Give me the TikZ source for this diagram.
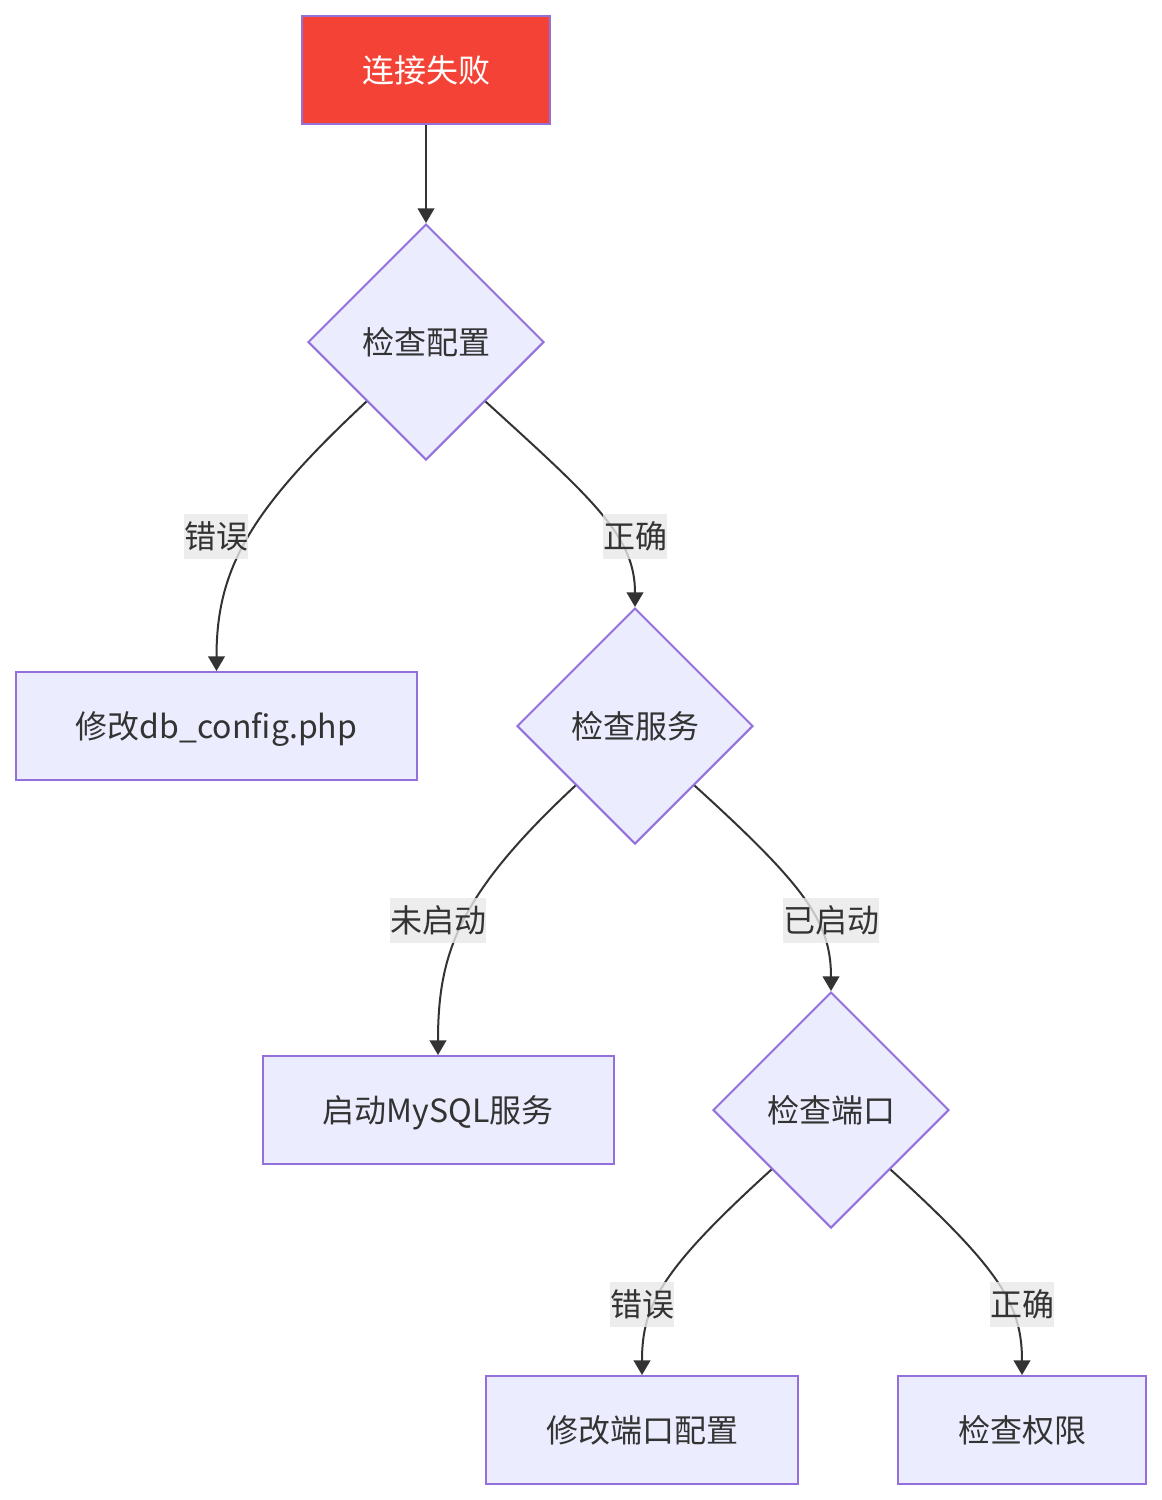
\documentclass[tikz,border=0pt]{standalone}
\usepackage{fontspec}
\setmainfont{Noto Sans CJK SC}
\usetikzlibrary{arrows.meta,shapes.geometric}
\definecolor{nodefill}{HTML}{ECECFF}
\definecolor{nodeline}{HTML}{9370DB}
\definecolor{startred}{HTML}{F44336}
\definecolor{wirecol}{HTML}{333333}
\definecolor{lblfill}{HTML}{E8E8E8}
\begin{document}
\begin{tikzpicture}[
    x=0.75pt, y=-0.75pt,
    every node/.style={font=\fontsize{24pt}{28pt}\selectfont, text=wirecol},
    box/.style={draw=nodeline, line width=1.5pt, fill=nodefill, minimum height=81pt, inner sep=0pt, text height=22pt, text depth=3pt},
    check/.style={diamond, draw=nodeline, line width=1.5pt, fill=nodefill, minimum width=177pt, minimum height=177pt, inner sep=0pt, aspect=1, text height=22pt, text depth=3pt},
    wire/.style={line width=1.5pt, draw=wirecol, -{Triangle[length=11pt,width=12.5pt]}},
    lbl/.style={fill=lblfill, fill opacity=0.8, text opacity=1, inner xsep=0pt, inner ysep=0pt, minimum height=33.75pt}
  ]
  \useasboundingbox (0,0) rectangle (1161,1500);

  \node[box, fill=startred, minimum width=186pt, text=white] (fail) at (426,70) {连接失败};
  \node[check] (cfg) at (426,342) {检查配置};
  \node[box, minimum width=300.75pt] (fixcfg) at (216.5,726) {修改db\_config.php};
  \node[check] (svc) at (635,726) {检查服务};
  \node[box, minimum width=263.25pt] (startsvc) at (438,1110) {启动MySQL服务};
  \node[check] (port) at (831,1110) {检查端口};
  \node[box, minimum width=234pt] (fixport) at (642,1430) {修改端口配置};
  \node[box, minimum width=186pt] (perm) at (1022,1430) {检查权限};

  \draw[wire] (fail.south) -- (cfg.north);
  \draw[wire] (cfg.south west) .. controls +(-117,109) and +(0,-102) .. (fixcfg.north);
  \draw[wire] (cfg.south east) .. controls +(110,100) and +(0,-70) .. (svc.north);
  \draw[wire] (svc.south west) .. controls +(-117,109) and +(0,-102) .. (startsvc.north);
  \draw[wire] (svc.south east) .. controls +(110,100) and +(0,-70) .. (port.north);
  \draw[wire] (port.south west) .. controls +(-110,100) and +(0,-70) .. (fixport.north);
  \draw[wire] (port.south east) .. controls +(110,100) and +(0,-70) .. (perm.north);

  \node[lbl] (cfgbad) at (216,536) {错误};
  \node[lbl] (cfgok) at (635,536) {正确};
  \node[lbl] (svcoff) at (438,920) {未启动};
  \node[lbl] (svcon) at (831,920) {已启动};
  \node[lbl] (portbad) at (642,1304) {错误};
  \node[lbl] (portok) at (1022,1304) {正确};
\end{tikzpicture}
\end{document}
